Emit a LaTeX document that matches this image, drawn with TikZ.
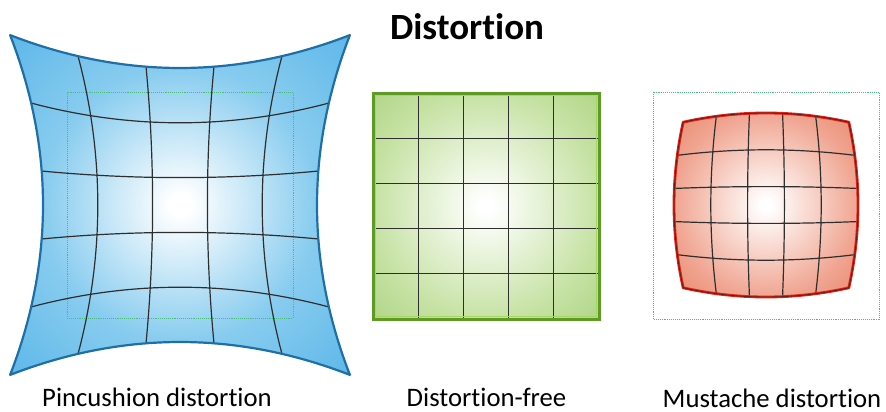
\documentclass[tikz,border=0pt]{standalone}
\usepackage{fontspec}
\setmainfont{Carlito}[Ligatures=NoCommon]
\definecolor{pinmid}{HTML}{88CCEF}
\definecolor{pinout}{HTML}{5FB8E9}
\definecolor{pinedge}{HTML}{1D6FA6}
\definecolor{grmid}{HTML}{C6E2A4}
\definecolor{grout}{HTML}{B2D689}
\definecolor{gredge}{HTML}{5E9B22}
\definecolor{grlight}{HTML}{A6D56C}
\definecolor{rdmid}{HTML}{F0A591}
\definecolor{rdout}{HTML}{E98A70}
\definecolor{rdedge}{HTML}{D8271B}
\definecolor{rddark}{HTML}{7A1810}
\definecolor{dotgreen}{HTML}{4DBB80}
\definecolor{gridc}{HTML}{2E2E2E}
\pgfdeclareradialshading{pinshade}{\pgfpoint{0bp}{0bp}}{color(0bp)=(white); color(1.5bp)=(white); color(20bp)=(pinmid); color(35bp)=(pinout); color(50bp)=(pinout)}
\pgfdeclareradialshading{grshade}{\pgfpoint{0bp}{0bp}}{color(0bp)=(white); color(1.5bp)=(white); color(25bp)=(grmid); color(35bp)=(grout); color(50bp)=(grout)}
\pgfdeclareradialshading{rdshade}{\pgfpoint{0bp}{0bp}}{color(0bp)=(white); color(1.5bp)=(white); color(25bp)=(rdmid); color(35bp)=(rdout); color(50bp)=(rdout)}
\tikzset{
  gridline/.style={draw=gridc, line width=1.2pt},
  dotbox/.style={draw=dotgreen, line width=0.9pt, densely dotted},
  lbl/.style={font=\fontsize{26.7}{32}\selectfont, anchor=base, inner sep=0pt},
}
\begin{document}
\begin{tikzpicture}[x=1pt,y=-1pt,
  declare function={
    px(\u,\v)=180+137*\u*(1+0.24*\v*\v);
    py(\u,\v)=205+137*\v*(1+0.24*\u*\u);
    mx(\u,\v)=766+92*\u*(1-0.1*\v*\v);
    my(\u,\v)=205+92*\v*(1-0.1*\u*\u);
  }]
\useasboundingbox (0,0) rectangle (886,412);
\def\pinpath{plot[samples=40,domain=-1:1] ({px(\x,-1)},{py(\x,-1)}) -- plot[samples=40,domain=-1:1] ({px(1,\x)},{py(1,\x)}) -- plot[samples=40,domain=1:-1] ({px(\x,1)},{py(\x,1)}) -- plot[samples=40,domain=1:-1] ({px(-1,\x)},{py(-1,\x)}) -- cycle}
\def\muspath{plot[samples=40,domain=-1:1] ({mx(\x,-1)},{my(\x,-1)}) -- plot[samples=40,domain=-1:1] ({mx(1,\x)},{my(1,\x)}) -- plot[samples=40,domain=1:-1] ({mx(\x,1)},{my(\x,1)}) -- plot[samples=40,domain=1:-1] ({mx(-1,\x)},{my(-1,\x)}) -- cycle}

% title
\node[font=\fontsize{37}{44}\selectfont\bfseries] (title) at (467,27) {Distortion};

% pincushion
\shade[shading=pinshade] \pinpath;
\draw[dotbox] (67,92) rectangle (293,318);
\foreach \a in {-0.6,-0.2,0.2,0.6}{
  \draw[gridline] plot[samples=30,domain=-1:1] ({px(\a,\x)},{py(\a,\x)});
  \draw[gridline] plot[samples=30,domain=-1:1] ({px(\x,\a)},{py(\x,\a)});
}
\draw[pinedge, line width=2.2pt, line join=round] \pinpath;

% distortion-free
\shade[shading=grshade] (373,93) rectangle (599,319);
\foreach \k in {1,2,3,4}{
  \draw[gridline] ({373+45.2*\k},93) -- ({373+45.2*\k},319);
  \draw[gridline] (373,{93+45.2*\k}) -- (599,{93+45.2*\k});
}
\draw[gredge, line width=3pt] (373,93) rectangle (599,319);
\draw[grlight, line width=1.1pt] (375.6,95.6) rectangle (596.4,316.4);

% mustache
\draw[dotbox] (653,92) rectangle (879,319);
\shade[shading=rdshade] \muspath;
\foreach \a in {-0.6,-0.2,0.2,0.6}{
  \draw[gridline] plot[samples=30,domain=-1:1] ({mx(\a,\x)},{my(\a,\x)});
  \draw[gridline] plot[samples=30,domain=-1:1] ({mx(\x,\a)},{my(\x,\a)});
}
\draw[rdedge, line width=2.8pt, line join=round] \muspath;
\draw[rddark, line width=0.9pt, line join=round] \muspath;

% labels
\node[lbl] (lpin) at (157,406) {Pincushion distortion};
\node[lbl] (lfree) at (486.5,406) {Distortion-free};
\node[lbl] (lmus) at (772,407) {Mustache distortion};
\end{tikzpicture}
\end{document}
